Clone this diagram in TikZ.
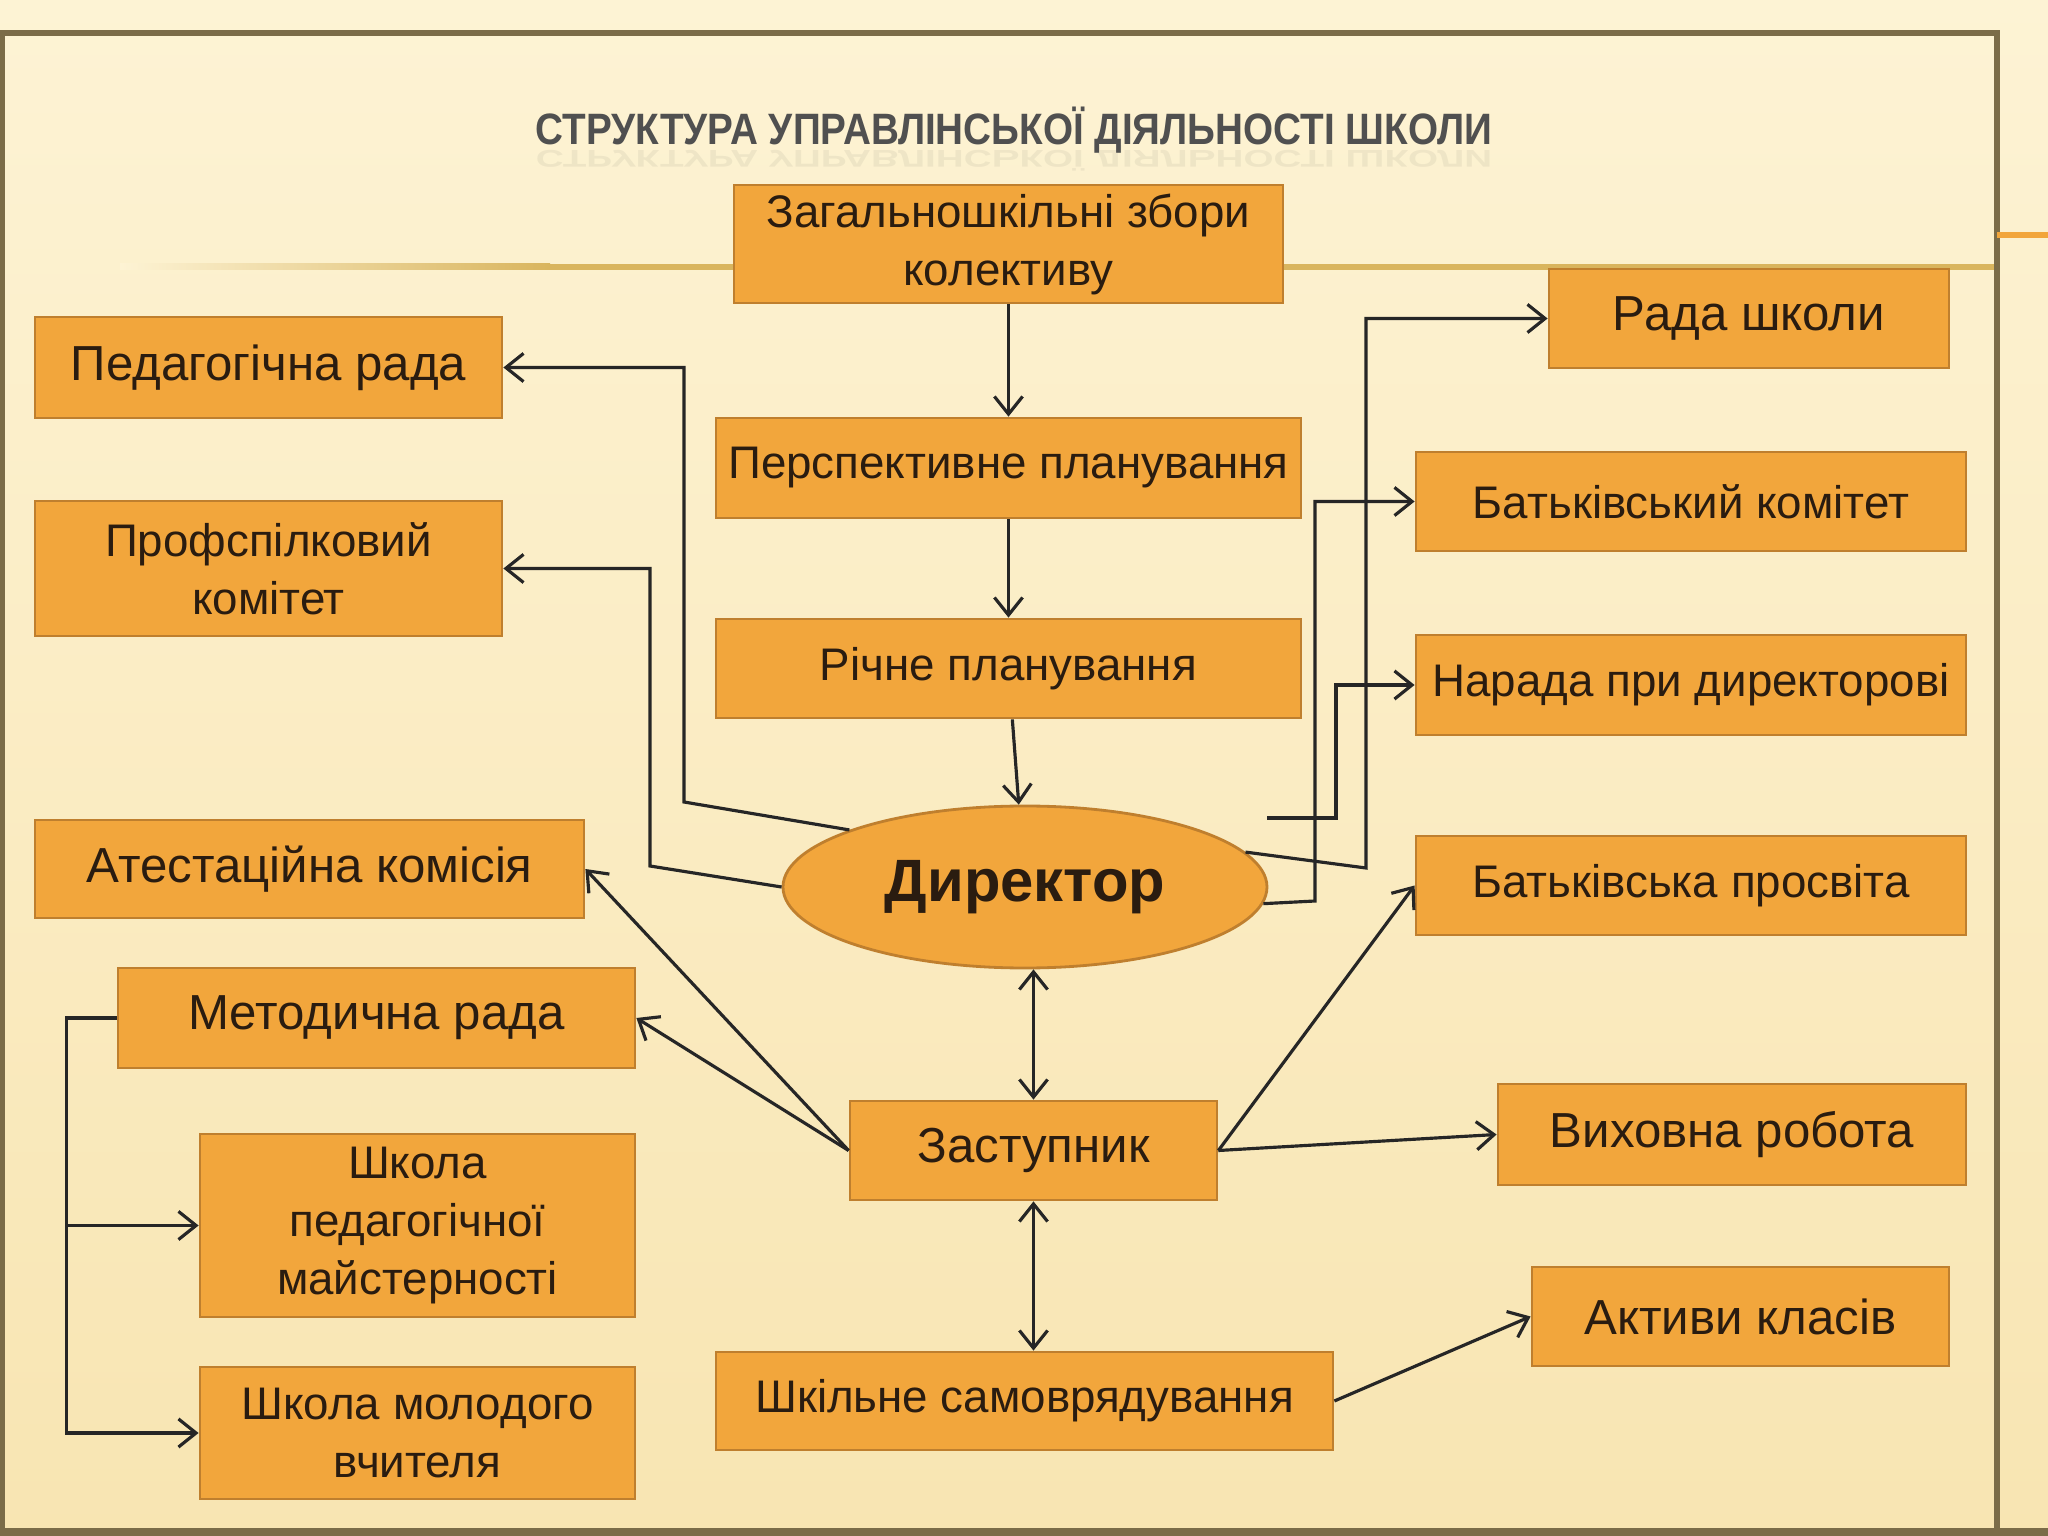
\documentclass[tikz,border=0pt]{standalone}
\usepackage{fontspec}
\setmainfont{Liberation Sans}
\newfontfamily\titlefont[FakeStretch=0.88]{Liberation Sans}
\usepackage{tikz}
\usetikzlibrary{positioning,arrows.meta,shapes,calc}
\definecolor{bgtop}{HTML}{FDF3D4}
\definecolor{bgbot}{HTML}{F8E5B2}
\definecolor{boxfill}{HTML}{F2A63C}
\definecolor{boxline}{HTML}{BF7F2E}
\definecolor{frameline}{HTML}{7B6C48}
\definecolor{goldline}{HTML}{D9B55E}
\definecolor{titlegray}{HTML}{505050}
\definecolor{inkdark}{HTML}{2A1C10}

\begin{document}
\begin{tikzpicture}[x=1cm,y=-1cm,
  every node/.style={font=\fontsize{14}{16.5}\selectfont,text=inkdark},
  blk/.style={draw=boxline,line width=0.8pt,fill=boxfill,inner sep=2pt,align=center},
  sml/.style={font=\fontsize{13}{16.5}\selectfont},
  arr/.style={draw=black!85,line width=0.9pt,-{Straight Barb[length=5pt,width=8pt]}},
  darr/.style={draw=black!85,line width=0.9pt,{Straight Barb[length=5pt,width=8pt]}-{Straight Barb[length=5pt,width=8pt]}}]
  % slide background and frame
  \shade[top color=bgtop,bottom color=bgbot] (0,0) rectangle (20.48,15.36);
  \useasboundingbox (0,0) rectangle (20.48,15.36);
  \shade[left color=bgtop,right color=goldline] (1.2,2.64) rectangle (5.5,2.70);
  \fill[goldline] (5.5,2.64) rectangle (19.97,2.70);
  \draw[frameline,line width=1.6pt] (0,0.33) -- (19.97,0.33) -- (19.97,15.28);
  \draw[frameline,line width=1.6pt] (0.02,0.33) -- (0.02,15.30);
  \fill[frameline] (0,15.28) rectangle (20.48,15.36);
  \draw[boxfill,line width=1.5pt] (19.97,2.35) -- (20.48,2.35);
  % title
  \node[font=\titlefont\bfseries\fontsize{12.5}{15}\selectfont,text=titlegray] (title) at (10.14,1.30) {СТРУКТУРА УПРАВЛІНСЬКОЇ ДІЯЛЬНОСТІ ШКОЛИ};
  \node[font=\titlefont\bfseries\fontsize{12.5}{15}\selectfont,text=titlegray,opacity=0.08,yscale=-0.55,transform shape] (titlerefl) at (10.14,1.58) {СТРУКТУРА УПРАВЛІНСЬКОЇ ДІЯЛЬНОСТІ ШКОЛИ};
  % centre column
  \node[blk,sml,minimum width=5.49cm,minimum height=1.18cm] (zbory) at (10.085,2.44) {Загальношкільні збори\\колективу};
  \node[blk,sml,minimum width=5.85cm,minimum height=1.00cm] (persp) at (10.085,4.68) {Перспективне планування};
  \node[blk,sml,minimum width=5.85cm,minimum height=0.99cm] (richne) at (10.085,6.685) {Річне планування};
  \node[ellipse,draw=boxline,line width=0.8pt,fill=boxfill,minimum width=4.84cm,minimum height=1.62cm,inner sep=0pt,font=\fontsize{17}{20}\selectfont\bfseries] (dyr) at (10.25,8.87) {Директор};
  \node[blk,minimum width=3.67cm,minimum height=0.99cm] (zast) at (10.335,11.505) {Заступник};
  \node[blk,sml,minimum width=6.17cm,minimum height=0.98cm] (samovr) at (10.245,14.01) {Шкільне самоврядування};
  % right column
  \node[blk,minimum width=4.00cm,minimum height=0.99cm] (rada) at (17.49,3.185) {Рада школи};
  \node[blk,sml,minimum width=5.50cm,minimum height=0.99cm] (batkom) at (16.91,5.015) {Батьківський комітет};
  \node[blk,sml,minimum width=5.50cm,minimum height=1.00cm] (narada) at (16.91,6.85) {Нарада при директорові};
  \node[blk,sml,minimum width=5.50cm,minimum height=0.99cm] (prosv) at (16.91,8.855) {Батьківська просвіта};
  \node[blk,minimum width=4.68cm,minimum height=1.01cm] (vykh) at (17.32,11.345) {Виховна робота};
  \node[blk,minimum width=4.17cm,minimum height=0.99cm] (aktyv) at (17.405,13.165) {Активи класів};
  % left column
  \node[blk,minimum width=4.67cm,minimum height=1.01cm] (pedrada) at (2.685,3.675) {Педагогічна рада};
  \node[blk,sml,minimum width=4.67cm,minimum height=1.35cm] (profsp) at (2.685,5.685) {Профспілковий\\комітет};
  \node[blk,minimum width=5.49cm,minimum height=0.98cm] (atest) at (3.095,8.69) {Атестаційна комісія};
  \node[blk,minimum width=5.17cm,minimum height=1.00cm] (metod) at (3.765,10.18) {Методична рада};
  \node[blk,sml,minimum width=4.35cm,minimum height=1.83cm] (shpm) at (4.175,12.255) {Школа\\педагогічної\\майстерності};
  \node[blk,sml,minimum width=4.35cm,minimum height=1.32cm] (shmv) at (4.175,14.33) {Школа молодого\\вчителя};
  % connectors
  \draw[arr] (zbory) -- (persp);
  \draw[arr] (persp) -- (richne);
  \draw[arr] (richne) -- (dyr);
  \draw[darr] (zast.north) -- (zast.north |- dyr.south);
  \draw[darr] (zast.south) -- (zast.south |- samovr.north);
  \draw[arr] (dyr.162) -- (6.84,8.02) |- (pedrada.east);
  \draw[arr] (dyr.west) -- (6.50,8.66) |- (profsp.east);
  \draw[arr] (dyr.9) -- (13.66,8.68) |- (rada.west);
  \draw[arr] (dyr.-4) -- (13.15,9.01) |- (batkom.west);
  \coordinate (nstart) at (12.67,8.18);
  \draw[arr] (nstart) -- (13.36,8.18) |- (narada.west);
  \draw[arr] (zast.west) -- (atest.east);
  \draw[arr] (zast.west) -- (metod.east);
  \draw[arr] (zast.east) -- (prosv.west);
  \draw[arr] (zast.east) -- (vykh.west);
  \draw[arr] (samovr.east) -- (aktyv.west);
  \draw[arr] (metod.west) -- ++(-0.50,0) |- (shmv.west);
  \draw[arr] (metod.west) ++(-0.50,0) |- (shpm.west);
\end{tikzpicture}
\end{document}
